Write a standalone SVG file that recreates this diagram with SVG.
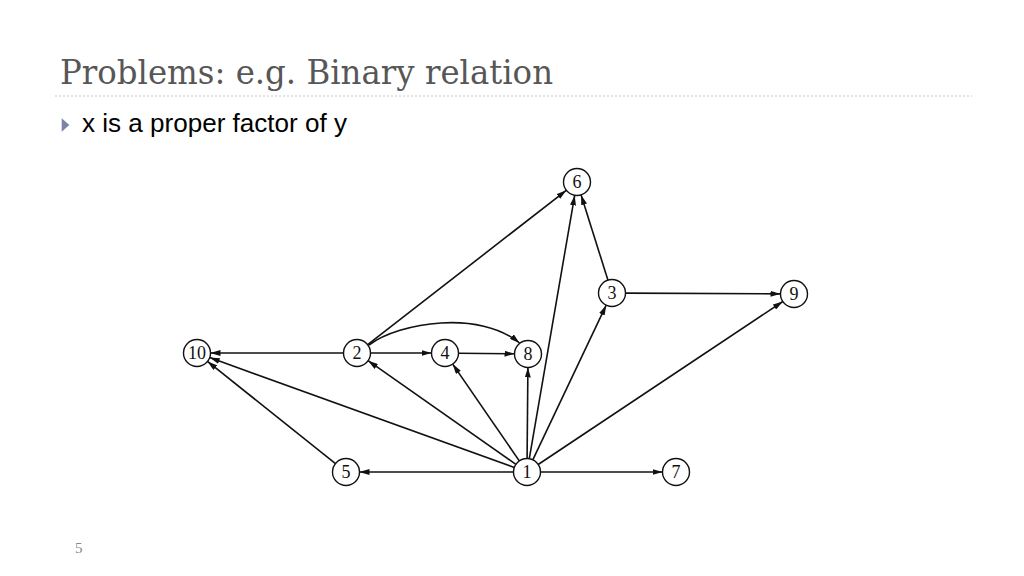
<svg xmlns="http://www.w3.org/2000/svg" width="1024" height="576" viewBox="0 0 1024 576">
<defs>
<marker id="arr" viewBox="0 0 10 6" refX="10" refY="3" markerWidth="10" markerHeight="6" markerUnits="userSpaceOnUse" orient="auto">
<path d="M0,0 L10,3 L0,6 Z" fill="#111"/>
</marker>
<style>
.node circle{fill:#fff;stroke:#111;stroke-width:1.4}
.node text{font-family:"Liberation Serif","Times New Roman",serif;font-size:18px;fill:#111;text-anchor:middle}
#edges line,#edges path{stroke:#111;stroke-width:1.6;fill:none;marker-end:url(#arr)}
</style>
</defs>
<rect width="1024" height="576" fill="#fff"/>
<text x="60" y="84" font-family="DejaVu Serif, Liberation Serif, serif" font-size="34" fill="#575757" textLength="493" lengthAdjust="spacingAndGlyphs">Problems: e.g. Binary relation</text>
<line x1="55" y1="96" x2="972" y2="96" stroke="#c8c8c8" stroke-width="1" stroke-dasharray="2,2"/>
<path d="M61.7,118.3 L61.7,131.7 L69.3,125 Z" fill="#7d82a8"/>
<text x="82" y="132" font-family="Liberation Sans, Arial, sans-serif" font-size="25" fill="#000" textLength="265" lengthAdjust="spacingAndGlyphs">x is a proper factor of y</text>
<text x="75" y="553" font-family="Liberation Serif, serif" font-size="15" fill="#888">5</text>
<g id="edges">
<line x1="514.3" y1="467.4" x2="209.7" y2="357.6"/>
<line x1="515.9" y1="464.3" x2="368.1" y2="360.7"/>
<line x1="519.3" y1="460.9" x2="452.7" y2="364.1"/>
<line x1="527.1" y1="458.5" x2="527.9" y2="367.5"/>
<line x1="529.3" y1="458.7" x2="574.7" y2="195.3"/>
<line x1="532.8" y1="459.8" x2="606.2" y2="305.2"/>
<line x1="538.2" y1="464.5" x2="782.8" y2="301.5"/>
<line x1="513.5" y1="472" x2="359.5" y2="472"/>
<line x1="540.5" y1="472" x2="662.5" y2="472"/>
<line x1="335.5" y1="463.6" x2="207.5" y2="361.4"/>
<line x1="343.5" y1="353" x2="210.5" y2="353"/>
<line x1="370.5" y1="353" x2="431.5" y2="353"/>
<line x1="458.5" y1="353.2" x2="514.5" y2="353.8"/>
<line x1="367.7" y1="344.7" x2="566.3" y2="190.3"/>
<line x1="607.9" y1="280.1" x2="581.1" y2="194.9"/>
<line x1="625.5" y1="293.1" x2="780.5" y2="293.9"/>
<path d="M369,345 C400,322 480,310 519.5,343"/>
</g>
<g id="n1" class="node"><circle cx="527" cy="472" r="13.5"/><text x="527" y="478">1</text></g>
<g id="n2" class="node"><circle cx="357" cy="353" r="13.5"/><text x="357" y="359">2</text></g>
<g id="n3" class="node"><circle cx="612" cy="293" r="13.5"/><text x="612" y="299">3</text></g>
<g id="n4" class="node"><circle cx="445" cy="353" r="13.5"/><text x="445" y="359">4</text></g>
<g id="n5" class="node"><circle cx="346" cy="472" r="13.5"/><text x="346" y="478">5</text></g>
<g id="n6" class="node"><circle cx="577" cy="182" r="13.5"/><text x="577" y="188">6</text></g>
<g id="n7" class="node"><circle cx="676" cy="472" r="13.5"/><text x="676" y="478">7</text></g>
<g id="n8" class="node"><circle cx="528" cy="354" r="13.5"/><text x="528" y="360">8</text></g>
<g id="n9" class="node"><circle cx="794" cy="294" r="13.5"/><text x="794" y="300">9</text></g>
<g id="n10" class="node"><circle cx="197" cy="353" r="13.5"/><text x="197" y="359">10</text></g>
</svg>
